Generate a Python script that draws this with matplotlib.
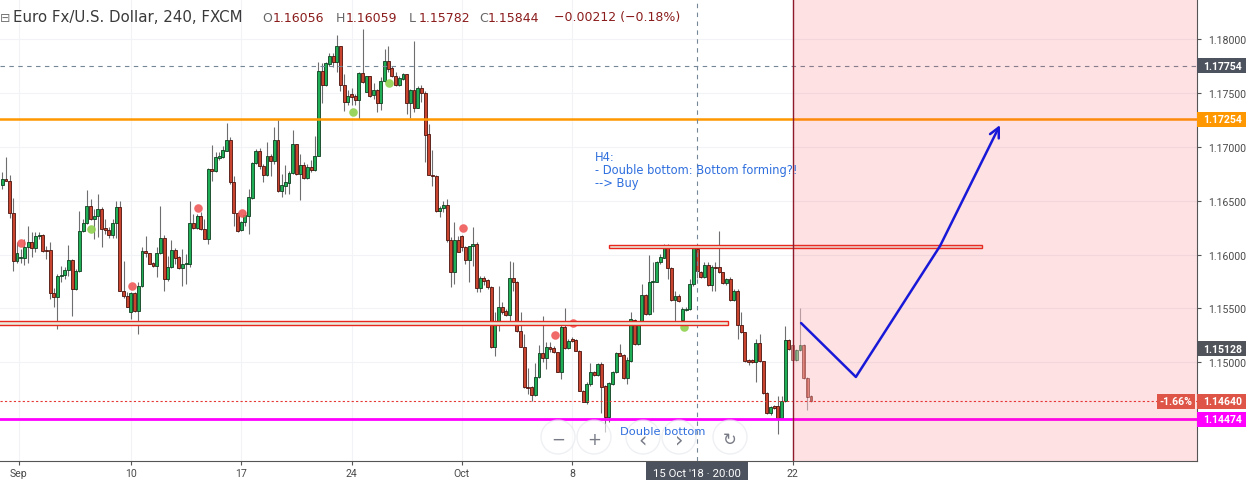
import numpy as np
import matplotlib.pyplot as plt
from matplotlib.patches import Rectangle, Ellipse
import matplotlib.transforms as mtransforms

# EUR/USD H4 candles (FXCM), Sep - 22 Oct 2018
opens = [
    1.16648, 1.16701, 1.16685, 1.16389, 1.15943, 1.15968, 1.15968, 1.16070, 1.16117, 1.16064,
    1.16173, 1.16182, 1.16043, 1.16043, 1.15647, 1.15610, 1.15799, 1.15811, 1.15854, 1.15950,
    1.15684, 1.15845, 1.16219, 1.16290, 1.16451, 1.16330, 1.16355, 1.16423, 1.16247, 1.16231,
    1.16185, 1.16293, 1.16442, 1.15665, 1.15613, 1.15465, 1.15641, 1.15474, 1.15712, 1.16031,
    1.16012, 1.15922, 1.15891, 1.16012, 1.16154, 1.15774, 1.15882, 1.16040, 1.15975, 1.15873,
    1.15910, 1.15916, 1.16293, 1.16247, 1.16361, 1.16238, 1.16148, 1.16794, 1.16778, 1.16896,
    1.16903, 1.16964, 1.17063, 1.16671, 1.16383, 1.16231, 1.16299, 1.16361, 1.16528, 1.16847,
    1.16958, 1.16825, 1.16741, 1.16912, 1.16871, 1.17063, 1.16593, 1.16639, 1.16664, 1.16757,
    1.17023, 1.16748, 1.16831, 1.16711, 1.16813, 1.16788, 1.16918, 1.17700, 1.17576, 1.17771,
    1.17840, 1.17789, 1.17932, 1.17576, 1.17418, 1.17487, 1.17468, 1.17437, 1.17685, 1.17511,
    1.17654, 1.17481, 1.17527, 1.17406, 1.17608, 1.17799, 1.17728, 1.17660, 1.17576, 1.17629,
    1.17673, 1.17403, 1.17527, 1.17363, 1.17545, 1.17496, 1.17119, 1.16741, 1.16732, 1.16407,
    1.16429, 1.16460, 1.16136, 1.15841, 1.16136, 1.16170, 1.16068, 1.15953, 1.16077, 1.16098,
    1.15687, 1.15780, 1.15764, 1.15697, 1.15146, 1.15372, 1.15511, 1.15474, 1.15440, 1.15780,
    1.15749, 1.15294, 1.15146, 1.14775, 1.14769, 1.14700, 1.14862, 1.15084, 1.15041, 1.15140,
    1.15134, 1.15094, 1.14914, 1.15325, 1.15131, 1.15217, 1.15208, 1.15109, 1.14738, 1.14635,
    1.14800, 1.14908, 1.14886, 1.14982, 1.14784, 1.14491, 1.14800, 1.14908, 1.15084, 1.15069,
    1.14855, 1.15016, 1.15393, 1.15171, 1.15356, 1.15628, 1.15449, 1.15743, 1.15749, 1.15928,
    1.15971, 1.16058, 1.15873, 1.15579, 1.15619, 1.15396, 1.15486, 1.15493, 1.15727, 1.16056,
    1.15841, 1.15789, 1.15904, 1.15721, 1.15882, 1.15882, 1.15836, 1.15734, 1.15774, 1.15582,
    1.15660, 1.15350, 1.15279, 1.15022, 1.15022, 1.15001, 1.15180, 1.15010, 1.14713, 1.14528,
    1.14593, 1.14593, 1.14481, 1.14639, 1.15208, 1.15161, 1.15025, 1.15115, 1.15161, 1.14855, 1.14686,
]
highs = [
    1.16766, 1.16906, 1.16738, 1.16525, 1.16117, 1.16052, 1.16145, 1.16265, 1.16210, 1.16210,
    1.16210, 1.16191, 1.16080, 1.16117, 1.15690, 1.15820, 1.15897, 1.15885, 1.16089, 1.15959,
    1.15867, 1.16407, 1.16330, 1.16599, 1.16516, 1.16423, 1.16562, 1.16442, 1.16330, 1.16256,
    1.16330, 1.16500, 1.16500, 1.15943, 1.15650, 1.15650, 1.15653, 1.15746, 1.16070, 1.16176,
    1.16015, 1.15931, 1.16068, 1.16454, 1.16182, 1.15990, 1.16136, 1.16057, 1.15990, 1.16052,
    1.16006, 1.16497, 1.16377, 1.16377, 1.16392, 1.16330, 1.16800, 1.17017, 1.16949, 1.16949,
    1.17010, 1.17221, 1.17094, 1.16732, 1.16392, 1.16314, 1.16392, 1.16609, 1.16856, 1.16980,
    1.16986, 1.16840, 1.17042, 1.16933, 1.17181, 1.17251, 1.16748, 1.16831, 1.16778, 1.17156,
    1.17026, 1.16933, 1.16856, 1.16840, 1.16878, 1.17097, 1.17784, 1.17777, 1.17784, 1.17867,
    1.17867, 1.18037, 1.17938, 1.17675, 1.17530, 1.17543, 1.17490, 1.17691, 1.18093, 1.17660,
    1.17660, 1.17592, 1.17536, 1.17645, 1.17907, 1.17938, 1.17752, 1.17691, 1.17660, 1.17682,
    1.17675, 1.17536, 1.17984, 1.17567, 1.17573, 1.17515, 1.17212, 1.16970, 1.16738, 1.16454,
    1.16500, 1.16516, 1.16161, 1.16300, 1.16176, 1.16182, 1.16083, 1.16083, 1.16253, 1.16114,
    1.15804, 1.15804, 1.15774, 1.15712, 1.15465, 1.15712, 1.15557, 1.15495, 1.15943, 1.15934,
    1.15758, 1.15465, 1.15263, 1.14945, 1.14784, 1.14994, 1.15161, 1.15433, 1.15186, 1.15186,
    1.15155, 1.15099, 1.15356, 1.15502, 1.15217, 1.15233, 1.15217, 1.15115, 1.14747, 1.14815,
    1.14994, 1.14923, 1.14994, 1.15001, 1.14790, 1.14815, 1.14923, 1.15099, 1.15171, 1.15078,
    1.15047, 1.15465, 1.15403, 1.15372, 1.15727, 1.15635, 1.15996, 1.15934, 1.15943, 1.16006,
    1.16098, 1.16098, 1.15882, 1.15665, 1.15635, 1.15511, 1.15514, 1.15774, 1.16068, 1.16059,
    1.15851, 1.15928, 1.15928, 1.15904, 1.15928, 1.16222, 1.15841, 1.15780, 1.15789, 1.15681,
    1.15681, 1.15470, 1.15285, 1.15032, 1.15032, 1.15217, 1.15264, 1.15016, 1.14723, 1.14598,
    1.14605, 1.14691, 1.14691, 1.15341, 1.15217, 1.15171, 1.15124, 1.15505, 1.15171, 1.14862, 1.14698,
]
lows = [
    1.16609, 1.16683, 1.16340, 1.15851, 1.15922, 1.15922, 1.15904, 1.15922, 1.15978, 1.16024,
    1.16145, 1.16027, 1.15959, 1.15588, 1.15514, 1.15310, 1.15746, 1.15774, 1.15804, 1.15433,
    1.15674, 1.15836, 1.16210, 1.16281, 1.16321, 1.16145, 1.16163, 1.16070, 1.16191, 1.16154,
    1.16154, 1.16154, 1.15662, 1.15595, 1.15511, 1.15403, 1.15467, 1.15263, 1.15697, 1.15975,
    1.15913, 1.15885, 1.15789, 1.16006, 1.15665, 1.15758, 1.15873, 1.15913, 1.15867, 1.15712,
    1.15727, 1.15882, 1.16238, 1.16238, 1.16228, 1.16145, 1.16098, 1.16686, 1.16763, 1.16878,
    1.16893, 1.16964, 1.16655, 1.16268, 1.16207, 1.16222, 1.16268, 1.16191, 1.16516, 1.16840,
    1.16794, 1.16676, 1.16726, 1.16732, 1.16840, 1.16578, 1.16532, 1.16562, 1.16562, 1.16748,
    1.16741, 1.16509, 1.16701, 1.16701, 1.16769, 1.16778, 1.16912, 1.17406, 1.17567, 1.17752,
    1.17737, 1.17697, 1.17520, 1.17335, 1.17388, 1.17388, 1.17388, 1.17258, 1.17592, 1.17506,
    1.17459, 1.17443, 1.17320, 1.17341, 1.17598, 1.17691, 1.17645, 1.17567, 1.17567, 1.17622,
    1.17304, 1.17264, 1.17320, 1.17357, 1.17413, 1.16862, 1.16738, 1.16639, 1.16398, 1.16346,
    1.16392, 1.16120, 1.15702, 1.15727, 1.16021, 1.16036, 1.15913, 1.15749, 1.15897, 1.15650,
    1.15650, 1.15718, 1.15681, 1.15131, 1.15062, 1.15294, 1.15449, 1.15433, 1.15372, 1.15665,
    1.15279, 1.15140, 1.14760, 1.14707, 1.14639, 1.14691, 1.14853, 1.15001, 1.14939, 1.15094,
    1.15087, 1.14908, 1.14846, 1.15124, 1.15124, 1.15186, 1.15103, 1.14732, 1.14630, 1.14614,
    1.14784, 1.14877, 1.14877, 1.14530, 1.14354, 1.14444, 1.14790, 1.14902, 1.15057, 1.14846,
    1.14800, 1.15007, 1.15164, 1.15164, 1.15350, 1.15440, 1.15443, 1.15465, 1.15743, 1.15913,
    1.15966, 1.15774, 1.15572, 1.15356, 1.15557, 1.15387, 1.15477, 1.15486, 1.15712, 1.15782,
    1.15780, 1.15780, 1.15712, 1.15665, 1.15665, 1.15829, 1.15727, 1.15718, 1.15572, 1.15572,
    1.15217, 1.15273, 1.15001, 1.14976, 1.14994, 1.14821, 1.15001, 1.14707, 1.14521, 1.14515,
    1.14568, 1.14336, 1.14475, 1.14630, 1.15118, 1.15016, 1.15016, 1.15109, 1.14846, 1.14558, 1.14630,
]
closes = [
    1.16701, 1.16685, 1.16389, 1.15943, 1.16015, 1.15978, 1.16070, 1.16117, 1.16064, 1.16173,
    1.16182, 1.16036, 1.16038, 1.15647, 1.15610, 1.15799, 1.15811, 1.15854, 1.15950, 1.15684,
    1.15845, 1.16219, 1.16290, 1.16451, 1.16330, 1.16355, 1.16423, 1.16238, 1.16231, 1.16185,
    1.16293, 1.16442, 1.15665, 1.15613, 1.15517, 1.15641, 1.15474, 1.15712, 1.16031, 1.16012,
    1.15916, 1.15891, 1.16015, 1.16154, 1.15774, 1.15882, 1.16040, 1.15968, 1.15873, 1.15910,
    1.15922, 1.16293, 1.16247, 1.16361, 1.16238, 1.16148, 1.16794, 1.16778, 1.16903, 1.16912,
    1.16970, 1.17063, 1.16671, 1.16383, 1.16216, 1.16299, 1.16367, 1.16532, 1.16847, 1.16958,
    1.16825, 1.16741, 1.16912, 1.16871, 1.17063, 1.16593, 1.16646, 1.16671, 1.16757, 1.17023,
    1.16748, 1.16831, 1.16711, 1.16813, 1.16788, 1.16918, 1.17700, 1.17576, 1.17777, 1.17840,
    1.17789, 1.17932, 1.17576, 1.17418, 1.17468, 1.17465, 1.17437, 1.17685, 1.17598, 1.17654,
    1.17474, 1.17527, 1.17406, 1.17608, 1.17799, 1.17722, 1.17660, 1.17576, 1.17635, 1.17673,
    1.17406, 1.17527, 1.17363, 1.17545, 1.17496, 1.17112, 1.16741, 1.16732, 1.16407, 1.16432,
    1.16460, 1.16136, 1.15841, 1.16136, 1.16027, 1.16068, 1.15953, 1.16077, 1.16098, 1.15687,
    1.15780, 1.15758, 1.15697, 1.15146, 1.15372, 1.15511, 1.15470, 1.15440, 1.15780, 1.15749,
    1.15294, 1.15146, 1.14775, 1.14763, 1.14700, 1.14862, 1.15084, 1.15041, 1.15140, 1.15124,
    1.15094, 1.14914, 1.15325, 1.15131, 1.15199, 1.15199, 1.15109, 1.14738, 1.14635, 1.14800,
    1.14908, 1.14886, 1.14982, 1.14775, 1.14491, 1.14806, 1.14908, 1.15084, 1.15062, 1.14855,
    1.15022, 1.15403, 1.15171, 1.15356, 1.15628, 1.15449, 1.15749, 1.15758, 1.15931, 1.15975,
    1.16058, 1.15873, 1.15579, 1.15619, 1.15572, 1.15493, 1.15495, 1.15727, 1.16061, 1.15844,
    1.15789, 1.15904, 1.15721, 1.15882, 1.15873, 1.15836, 1.15734, 1.15774, 1.15582, 1.15660,
    1.15350, 1.15279, 1.15010, 1.15007, 1.15001, 1.15180, 1.15010, 1.14713, 1.14528, 1.14589,
    1.14577, 1.14481, 1.14639, 1.15208, 1.15124, 1.15025, 1.15115, 1.15161, 1.14855, 1.14682, 1.14640,
]

# fractal dots (bar index, price)
red_dots_x = [5.2, 35.4, 53.3, 65.3, 125.4, 150.4, 155.3]
red_dots_y = [1.16105, 1.15706, 1.16429, 1.16383, 1.16244, 1.15251, 1.15363]
green_dots_x = [24.2, 95.5, 105.3, 185.5]
green_dots_y = [1.16237, 1.17320, 1.17589, 1.15331]

# x axis labels (bar index of first bar)
x_tick_pos = [4.5, 35, 65, 95, 125, 155, 215]
x_tick_labels = ["Sep", "10", "17", "24", "Oct", "8", "22"]
y_ticks = [1.150, 1.155, 1.160, 1.165, 1.170, 1.175, 1.180]

# drawings
crosshair_bar = 189
crosshair_price = 1.17754
resistance = 1.17254
double_bottom_low = 1.14474
last_price = 1.14640
marker_price = 1.15128
lower_zone = (1.15350, 1.15381, 197.3)       # low, high, right end bar
upper_zone = (1.16064, 1.16092, 165.1, 266.5)  # low, high, left bar, right bar
zone_start = 215
path_x = [217.3, 232.2, 255.1, 271.4]
path_y = [1.15365, 1.14865, 1.16080, 1.17202]

W, H = 1246, 481
fig = plt.figure(figsize=(W / 100, H / 100), dpi=100)
ax = fig.add_axes([0, 19 / H, 1197 / W, 462 / H])
xmin, xmax = -0.626, 325.0
ymin, ymax = 1.140853, 1.183711
ax.set_xlim(xmin, xmax)
ax.set_ylim(ymin, ymax)

o = np.array(opens)
hi = np.array(highs)
lo = np.array(lows)
c = np.array(closes)
x = np.arange(len(o))
up = c >= o

for sel, a in [(x < zone_start, 1.0), (x >= zone_start, 0.55)]:
    ax.vlines(x[sel], lo[sel], hi[sel], color="#6e6e70", lw=0.8, alpha=a, zorder=2)
    for m, fc, ec in [(up, "#1fae55", "#0e3d1e"), (~up, "#c9442e", "#4a120c")]:
        s = sel & m
        ax.bar(x[s], np.abs(c[s] - o[s]), bottom=np.minimum(o[s], c[s]), width=0.8,
               color=fc, edgecolor=ec, linewidth=0.6, alpha=a, zorder=3)

ax.scatter(red_dots_x, red_dots_y, s=38, color="#f05a5a", alpha=0.9, lw=0, zorder=4)
ax.scatter(green_dots_x, green_dots_y, s=38, color="#8fd14f", alpha=0.9, lw=0, zorder=4)

# horizontal levels
ax.axhline(crosshair_price, color="#758696", lw=0.8, ls=(0, (4, 4)), zorder=5)
ax.axhline(resistance, color="#ff9800", lw=1.8, zorder=5)
ax.axhline(double_bottom_low, color="#ff00ff", lw=2.0, zorder=5)
ax.axhline(last_price, color="#e53935", lw=0.8, ls=(0, (2, 2)), zorder=5)
ax.axvline(crosshair_bar, color="#758696", lw=0.8, ls=(0, (4, 4)), zorder=5)

# zones
ax.add_patch(Rectangle((xmin - 2, lower_zone[0]), lower_zone[2] - xmin + 2,
                       lower_zone[1] - lower_zone[0], facecolor="#e9ebdd",
                       edgecolor="#e8281e", lw=1.0, zorder=5))
ax.add_patch(Rectangle((upper_zone[2], upper_zone[0]), upper_zone[3] - upper_zone[2],
                       upper_zone[1] - upper_zone[0], facecolor="#e9ebdd",
                       edgecolor="#e8281e", lw=1.0, zorder=5))

ax.axvspan(zone_start, xmax + 5, color="#f23645", alpha=0.15, lw=0, zorder=6)
ax.axvline(zone_start, color="#8e1b2c", lw=1.0, zorder=6)

# projected path
ax.plot(path_x[:-1], path_y[:-1], color="#1818d8", lw=1.8, zorder=7, solid_capstyle="round")
ax.annotate("", xy=(path_x[-1], path_y[-1]), xytext=(path_x[-2], path_y[-2]),
            arrowprops=dict(arrowstyle="->,head_length=0.7,head_width=0.35", color="#1818d8",
                            lw=1.8, shrinkA=0, shrinkB=0), zorder=7)

ax.text(161.2, 1.16794, "H4:\n- Double bottom: Bottom forming?!\n--> Buy", color="#2f6fde",
        fontsize=8.3, family="DejaVu Sans", va="center", ha="left", linespacing=1.0, zorder=8)

# axes styling
ax.grid(True, color="#f1f3f6", lw=0.8, zorder=0)
ax.set_axisbelow(True)
for side in ["top", "left"]:
    ax.spines[side].set_visible(False)
ax.spines["right"].set_color("#555555")
ax.spines["bottom"].set_color("#555555")
ax.yaxis.tick_right()
ax.set_yticks(y_ticks)
ax.set_yticklabels([f"{v:.5f}" for v in y_ticks])
ax.set_xticks(x_tick_pos)
ax.set_xticklabels(x_tick_labels)
ax.tick_params(axis="y", length=3, color="#555555", labelcolor="#4a4a4a", labelsize=7.6, pad=5)
ax.tick_params(axis="x", length=3, color="#555555", labelcolor="#4a4a4a", labelsize=7.6, pad=2)
for t in ax.get_xticklabels() + ax.get_yticklabels():
    t.set_family("Roboto")

# price tags on the right scale
tr = mtransforms.blended_transform_factory(ax.transAxes, ax.transData)
x_end = W / 1197
tags = [(crosshair_price, "#4c525e"), (resistance, "#ff9800"), (marker_price, "#50535a"),
        (last_price, "#de5446"), (double_bottom_low, "#ff00ff")]
half = 0.00069
for price, col in tags:
    ax.add_patch(Rectangle((1.0, price - half), x_end - 1.0, 2 * half, transform=tr,
                           facecolor=col, edgecolor="none", clip_on=False, zorder=9))
    ax.text((1.0 + x_end) / 2 + 0.001, price, f"{price:.5f}", transform=tr, color="white",
            fontsize=7.6, weight="bold", family="Roboto", ha="center", va="center",
            clip_on=False, zorder=10)
ax.add_patch(Rectangle((1157 / 1197, last_price - half), 38 / 1197, 2 * half, transform=tr,
                       facecolor="#de5446", edgecolor="none", zorder=9))
ax.text(1176 / 1197, last_price, "-1.66%", transform=tr, color="white", fontsize=7.6,
        weight="bold", family="Roboto", ha="center", va="center", zorder=10)

# crosshair time label
ax.text(crosshair_bar, -0.027, "15 Oct '18 · 20:00", transform=mtransforms.blended_transform_factory(
    ax.transData, ax.transAxes), color="white", fontsize=8.2, family="Roboto", ha="center",
    va="center", clip_on=False, zorder=10,
    bbox=dict(boxstyle="square,pad=0.6", facecolor="#4c525e", edgecolor="none"))

# legend line
yt = 1 - 18 / H
fig.text(0 / W, yt, "⊟", fontsize=9, color="#777777", va="center", family="DejaVu Sans")
fig.text(13 / W, yt, "Euro Fx/U.S. Dollar, 240, FXCM", fontsize=10.8, color="#3a3a3a",
         va="center", family="DejaVu Sans")
parts = [(262, "O", "#666666"), (273, "1.16056", "#8b1c1c"), (336, "H", "#666666"),
         (346, "1.16059", "#8b1c1c"), (409, "L", "#666666"), (419, "1.15782", "#8b1c1c"),
         (479, "C", "#666666"), (488, "1.15844", "#8b1c1c"),
         (554, "\u22120.00212 (\u22120.18%)", "#8b1c1c")]
for px, s, col in parts:
    fig.text(px / W, yt, s, fontsize=9.0, color=col, va="center", family="DejaVu Sans")

# navigation buttons overlay
for px, g in [(558, "\u2212"), (594, "+"), (643, "\u2039"), (679, "\u203a"), (730, "\u21bb")]:
    fig.add_artist(Ellipse((px / W, 1 - 438 / H), 34 / W, 34 / H, transform=fig.transFigure,
                           facecolor="white", edgecolor="#e3e6eb", lw=1.0, alpha=0.6))
fig.text(663 / W, 1 - 432 / H, "Double bottom", color="#2f6fde", fontsize=8.2,
         family="DejaVu Sans", va="center", ha="center")
for px, g in [(558, "\u2212"), (594, "+"), (643, "\u2039"), (679, "\u203a"), (730, "\u21bb")]:
    fig.text(px / W, 1 - 440 / H, g, fontsize=15 if g in "\u2039\u203a" else 12,
             color="#787b86", ha="center", va="center", family="DejaVu Sans")

fig.savefig("out.png", dpi=100)
